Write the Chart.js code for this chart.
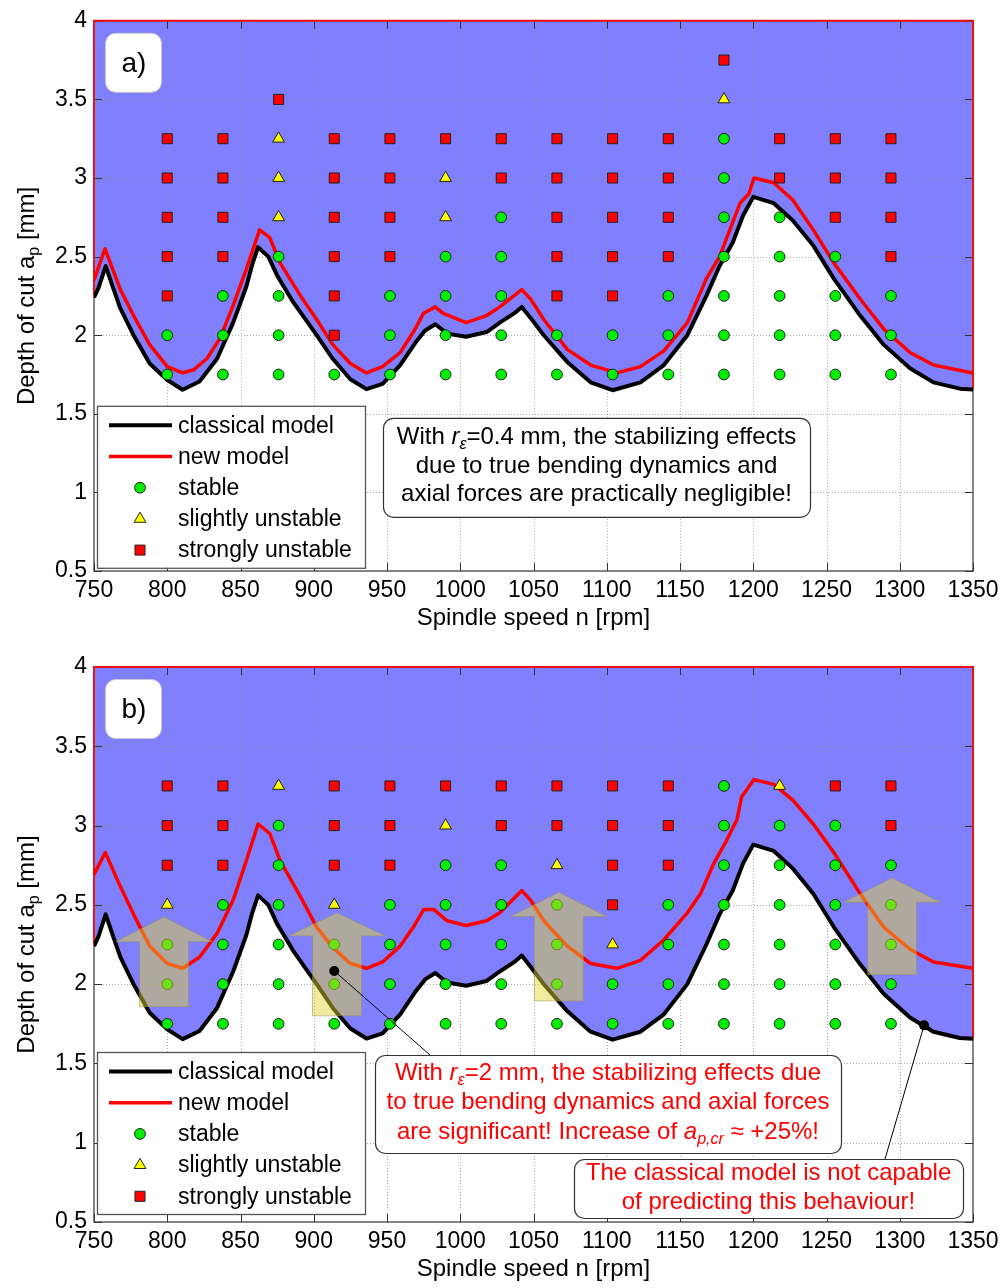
<!DOCTYPE html>
<html><head><meta charset="utf-8">
<script src="https://cdn.jsdelivr.net/npm/chart.js@4.4.0/dist/chart.umd.min.js"></script>
<style>
html,body{margin:0;padding:0;background:#fff;}
#wrap{position:relative;width:1007px;height:1288px;}
.panel{position:absolute;left:0;width:1007px;height:644px;}
</style></head><body>
<div id="wrap">
<div class="panel" style="top:0"><canvas id="cA"></canvas></div>
<div class="panel" style="top:644px"><canvas id="cB"></canvas></div>
</div>
<script>
// ---------------- DATA ----------------
const xTicks = [750,800,850,900,950,1000,1050,1100,1150,1200,1250,1300,1350];
const yTicks = [0.5,1,1.5,2,2.5,3,3.5,4];

const speeds = [800,838,876,914,952,990,1028,1066,1104,1142,1180,1218,1256,1294];
const depthLevels = [1.75,2.0,2.25,2.5,2.75,3.0,3.25,3.5,3.75];
// per speed, from lowest depth upwards: S = stable, Y = slightly unstable, R = strongly unstable
const testsA = ["SSRRRRR","SSSRRRR","SSSSYYYR","SRRRRRR","SSSRRRR","SSSSYYR","SSSSSRR",
                "SSRRRRR","SSRRRRR","SSSRRRR","SSSSSSSYR","SSSSSRR","SSSSRRR","SSSRRRR"];
const testsB = ["SSSYRRR","SSSSRRR","SSSSSSY","SSSYRRR","SSSSRRR","SSSSSYR","SSSSSRR",
                "SSSSYRR","SSYRRRR","SSSSRRR","SSSSSSS","SSSSSSY","SSSSSSR","SSSSSRR"];

const classicalRpm   = [750,753,758,762,768,777,788,800,810.5,822,834,845,854,858,862,869,875,886,902,913,925,936,947,959,970,976,983,991,1004,1018,1027,1037,1042,1048,1057,1073,1089,1104,1123,1139,1155,1168,1177,1186,1193,1200,1214,1227,1241,1255,1273,1289,1307,1323,1341,1350];
const classicalDepth = [2.24,2.30,2.44,2.33,2.17,2.00,1.82,1.715,1.653,1.705,1.85,2.08,2.31,2.45,2.56,2.50,2.38,2.21,2.00,1.85,1.72,1.657,1.69,1.81,1.96,2.03,2.07,2.01,1.99,2.02,2.08,2.14,2.18,2.11,2.00,1.83,1.70,1.65,1.70,1.81,2.00,2.25,2.44,2.59,2.76,2.88,2.84,2.73,2.57,2.36,2.125,1.94,1.79,1.70,1.66,1.655];

const newRpmA   = [750,757.5,768,777,788,800,810.5,818,827,836,845,854,863,870,877,891,902,913,925,936,947,959,968,975,983,988,1004,1018,1027,1042,1048,1057,1073,1089,1107,1123,1139,1155,1168,1177,1184,1191,1197,1200.5,1214,1227,1241,1255,1273,1289,1307,1323,1350];
const newDepthA = [2.35,2.55,2.29,2.125,1.94,1.80,1.76,1.78,1.85,1.98,2.19,2.42,2.67,2.62,2.46,2.25,2.10,1.94,1.82,1.76,1.80,1.89,2.02,2.14,2.18,2.14,2.08,2.125,2.18,2.29,2.23,2.10,1.91,1.81,1.76,1.80,1.90,2.08,2.36,2.50,2.67,2.84,2.90,3.0,2.97,2.86,2.67,2.46,2.23,2.04,1.89,1.81,1.76];

const newRpmB   = [750,757.7,768,777,788,800,810.5,822,834,845,854,862,870,877,891,902,913,925,936,947,959,968,975,982,991,1004,1018,1027,1042,1048,1057,1073,1089,1107,1123,1139,1155,1164,1173,1182,1189,1192,1200.5,1214,1227,1241,1255,1264,1273,1289,1307,1323,1350];
const newDepthB = [2.69,2.83,2.615,2.44,2.24,2.13,2.10,2.17,2.32,2.53,2.78,3.01,2.95,2.78,2.55,2.36,2.23,2.13,2.10,2.14,2.24,2.36,2.47,2.47,2.40,2.37,2.40,2.45,2.59,2.53,2.40,2.24,2.13,2.10,2.15,2.28,2.45,2.57,2.76,2.91,3.04,3.18,3.29,3.26,3.16,3.01,2.83,2.70,2.57,2.36,2.22,2.14,2.10];

// ---------------- HELPERS ----------------
const FONT = '"Liberation Sans", Arial, Helvetica, sans-serif';
Chart.defaults.font.family = FONT;
Chart.defaults.color = '#000';

function xy(xs, ys){ return xs.map((x,i)=>({x:x, y:ys[i]})); }
function pts(tests, code){
  const out=[];
  tests.forEach((col,i)=>{ [...col].forEach((c,j)=>{ if(c===code) out.push({x:speeds[i], y:depthLevels[j]}); }); });
  return out;
}
function rrect(ctx,x,y,w,h,r){
  ctx.beginPath();
  ctx.moveTo(x+r,y); ctx.lineTo(x+w-r,y); ctx.arcTo(x+w,y,x+w,y+r,r);
  ctx.lineTo(x+w,y+h-r); ctx.arcTo(x+w,y+h,x+w-r,y+h,r);
  ctx.lineTo(x+r,y+h); ctx.arcTo(x,y+h,x,y+h-r,r);
  ctx.lineTo(x,y+r); ctx.arcTo(x,y,x+r,y,r); ctx.closePath();
}
function segFont(s,size){ const sz = s.sub ? Math.round(size*0.68) : size; return (s.i?'italic ':'')+sz+'px '+FONT; }
function drawRich(ctx, segs, cx, cy, size, color){
  let w=0; segs.forEach(s=>{ ctx.font=segFont(s,size); w+=ctx.measureText(s.t).width; });
  let x = cx - w/2;
  ctx.fillStyle=color; ctx.textBaseline='middle'; ctx.textAlign='left';
  segs.forEach(s=>{ ctx.font=segFont(s,size); ctx.fillText(s.t, x, cy + (s.sub? size*0.3:0)); x+=ctx.measureText(s.t).width; });
}
function N(t){return {t:t};}
function I(t){return {t:t,i:true};}
function SUB(t){return {t:t,i:true,sub:true};}

const LINE_STYLES = {
  classical: {color:'#000000', width:4},
  newModel:  {color:'#ff0000', width:3.5}
};
const MARKERS = {
  stable:   {style:'circle',   radius:5.4, color:'#00ee00'},
  slightly: {style:'triangle', radius:6.8, color:'#ffff00'},
  strongly: {style:'rect',     radius:7.1, color:'#ff0000'}
};

// ---------------- PLUGIN ----------------
const panelPlugin = {
  id:'panelPlugin',
  afterDatasetDraw(chart, args){
    if(!chart.data.datasets[args.index].isFill) return;
    const {ctx, chartArea:ca, scales:{x,y}} = chart;
    ctx.save();
    // dotted grid
    ctx.strokeStyle='rgba(140,140,140,0.75)'; ctx.lineWidth=1; ctx.setLineDash([1,2]);
    x.ticks.forEach(t=>{ const p=Math.round(x.getPixelForValue(t.value))+0.5;
      if(p<ca.left+2||p>ca.right-2) return;
      ctx.beginPath(); ctx.moveTo(p,ca.top); ctx.lineTo(p,ca.bottom); ctx.stroke(); });
    y.ticks.forEach(t=>{ const p=Math.round(y.getPixelForValue(t.value))+0.5;
      if(p<ca.top+2||p>ca.bottom-2) return;
      ctx.beginPath(); ctx.moveTo(ca.left,p); ctx.lineTo(ca.right,p); ctx.stroke(); });
    ctx.setLineDash([]);
    // box
    ctx.strokeStyle='#333'; ctx.lineWidth=1.2;
    ctx.strokeRect(ca.left, ca.top, ca.right-ca.left, ca.bottom-ca.top);
    // inward ticks
    ctx.lineWidth=1;
    x.ticks.forEach(t=>{ const p=Math.round(x.getPixelForValue(t.value))+0.5;
      ctx.beginPath(); ctx.moveTo(p,ca.bottom); ctx.lineTo(p,ca.bottom-8);
      ctx.moveTo(p,ca.top); ctx.lineTo(p,ca.top+8); ctx.stroke(); });
    y.ticks.forEach(t=>{ const p=Math.round(y.getPixelForValue(t.value))+0.5;
      ctx.beginPath(); ctx.moveTo(ca.left,p); ctx.lineTo(ca.left+8,p);
      ctx.moveTo(ca.right,p); ctx.lineTo(ca.right-8,p); ctx.stroke(); });
    ctx.restore();
  },
  afterDatasetsDraw(chart){
    const o = chart.options.plugins.panelPlugin;
    const {ctx, scales:{x,y}} = chart;
    if(o.arrows){
      ctx.save();
      ctx.fillStyle='rgba(225,212,50,0.47)';
      o.arrows.forEach(a=>{
        const cx=x.getPixelForValue(a.x), sw=x.getPixelForValue(a.x+a.shaft)-cx, hw=x.getPixelForValue(a.x+a.head)-cx;
        const yb=y.getPixelForValue(a.y0), yh=y.getPixelForValue(a.yHead), yt=y.getPixelForValue(a.yTip);
        ctx.beginPath();
        ctx.moveTo(cx-sw,yb); ctx.lineTo(cx-sw,yh); ctx.lineTo(cx-hw,yh); ctx.lineTo(cx,yt);
        ctx.lineTo(cx+hw,yh); ctx.lineTo(cx+sw,yh); ctx.lineTo(cx+sw,yb); ctx.closePath(); ctx.fill();
        ctx.strokeStyle='rgba(150,140,90,0.5)'; ctx.lineWidth=1; ctx.stroke();
      });
      ctx.restore();
    }
  },
  afterDraw(chart){
    const o = chart.options.plugins.panelPlugin;
    const {ctx, chartArea:ca, scales:{x,y}} = chart;
    ctx.save();
    // callouts
    (o.callouts||[]).forEach(c=>{
      const px=x.getPixelForValue(c.x), py=y.getPixelForValue(c.y);
      ctx.strokeStyle='#000'; ctx.lineWidth=1;
      ctx.beginPath(); ctx.moveTo(px,py); ctx.lineTo(ca.left+c.tx, ca.top+c.ty); ctx.stroke();
      ctx.fillStyle='#000'; ctx.beginPath(); ctx.arc(px,py,5,0,Math.PI*2); ctx.fill();
    });
    // annotation boxes
    (o.notes||[]).forEach(n=>{
      const L=ca.left+n.l, T=ca.top+n.t;
      rrect(ctx,L+0.5,T+0.5,n.w,n.h,10); ctx.fillStyle='#fff'; ctx.fill();
      ctx.strokeStyle='#333'; ctx.lineWidth=1.2; ctx.stroke();
      n.lines.forEach((segs,k)=>drawRich(ctx, segs, L+n.w/2, T+n.first+k*n.step, 24, n.color));
    });
    // panel label
    rrect(ctx, ca.left+11.5, ca.top+12.5, 56, 59, 10); ctx.fillStyle='#fff'; ctx.fill();
    ctx.strokeStyle='#c8c8c8'; ctx.lineWidth=1; ctx.stroke();
    ctx.fillStyle='#000'; ctx.font='28px '+FONT; ctx.textAlign='center'; ctx.textBaseline='middle';
    ctx.fillText(o.label, ca.left+40, ca.top+43);
    // legend
    const L=ca.left+3, T=ca.top+385, W=268, H=162;
    ctx.fillStyle='#fff'; ctx.fillRect(L,T,W,H);
    ctx.strokeStyle='#555'; ctx.lineWidth=1.3; ctx.strokeRect(L+0.5,T+0.5,W,H);
    ctx.font='23px '+FONT; ctx.textAlign='left'; ctx.textBaseline='middle';
    chart.data.datasets.filter(d=>d.legendRow!==undefined).forEach(d=>{
      const ry = T+19.5+31.2*d.legendRow;
      if(d.pointRadius===0){
        ctx.strokeStyle=d.borderColor; ctx.lineWidth=d.borderWidth;
        ctx.beginPath(); ctx.moveTo(L+12,ry); ctx.lineTo(L+75,ry); ctx.stroke();
      } else {
        ctx.fillStyle=d.backgroundColor; ctx.strokeStyle=d.borderColor; ctx.lineWidth=d.borderWidth;
        Chart.helpers.drawPoint(ctx,{pointStyle:d.pointStyle, radius:d.pointRadius, rotation:0, borderWidth:d.borderWidth}, L+43, ry);
      }
      ctx.fillStyle='#000'; ctx.fillText(d.label, L+81, ry+1);
    });
    // axis titles
    ctx.fillStyle='#000';
    drawRich(ctx, [N('Spindle speed n [rpm]')], (ca.left+ca.right)/2, ca.bottom+47, 24, '#000');
    ctx.translate(27, (ca.top+ca.bottom)/2); ctx.rotate(-Math.PI/2);
    drawRich(ctx, [N('Depth of cut a'), {t:'p', sub:true}, N(' [mm]')], 0, 0, 24, '#000');
    ctx.restore();
  }
};

function makeChart(id, cfg){
  const fillData = xy(classicalRpm, classicalDepth);
  const first = fillData[0], last = fillData[fillData.length-1];
  return new Chart(document.getElementById(id), {
    type:'scatter',
    data:{ datasets:[
      {label:'fill', isFill:true, data:fillData, showLine:true, borderWidth:0, pointRadius:0,
       fill:'end', backgroundColor:'#8080ff', order:10},
      {label:'edge', data:[{x:xTicks[0],y:first.y},{x:xTicks[0],y:yTicks[yTicks.length-1]},{x:xTicks[xTicks.length-1],y:yTicks[yTicks.length-1]},{x:xTicks[xTicks.length-1],y:last.y}],
       showLine:true, borderColor:'#ee1111', borderWidth:2, pointRadius:0, tension:0, order:9, clip:false},
      {label:'classical model', legendRow:0, data:fillData, showLine:true, borderColor:LINE_STYLES.classical.color,
       borderWidth:LINE_STYLES.classical.width, pointRadius:0, tension:0, order:6, borderJoinStyle:'round'},
      {label:'new model', legendRow:1, data:cfg.newModel, showLine:true, borderColor:LINE_STYLES.newModel.color,
       borderWidth:LINE_STYLES.newModel.width, pointRadius:0, tension:0, order:5, borderJoinStyle:'round'},
      {label:'stable', legendRow:2, data:pts(cfg.tests,'S'), pointStyle:MARKERS.stable.style, pointRadius:MARKERS.stable.radius,
       backgroundColor:MARKERS.stable.color, borderColor:'#222', borderWidth:1, order:3},
      {label:'slightly unstable', legendRow:3, data:pts(cfg.tests,'Y'), pointStyle:MARKERS.slightly.style, pointRadius:MARKERS.slightly.radius,
       backgroundColor:MARKERS.slightly.color, borderColor:'#222', borderWidth:1, order:2},
      {label:'strongly unstable', legendRow:4, data:pts(cfg.tests,'R'), pointStyle:MARKERS.strongly.style, pointRadius:MARKERS.strongly.radius,
       backgroundColor:MARKERS.strongly.color, borderColor:'#222', borderWidth:1, order:1}
    ]},
    options:{
      responsive:true, maintainAspectRatio:false, animation:false, devicePixelRatio:1, events:[],
      layout:{padding:{top:cfg.caTop, right:34, left:0, bottom:0}},
      scales:{
        x:{type:'linear', min:xTicks[0], max:xTicks[xTicks.length-1],
           afterBuildTicks:s=>{ s.ticks = xTicks.map(v=>({value:v})); },
           afterFit:s=>{ s.height = 644 - cfg.caBottom; },
           grid:{display:false, drawTicks:false, tickLength:0}, border:{display:false},
           ticks:{autoSkip:false, maxRotation:0, padding:6, font:{size:23}, color:'#000', callback:v=>String(v)}},
        y:{type:'linear', min:yTicks[0], max:yTicks[yTicks.length-1],
           afterBuildTicks:s=>{ s.ticks = yTicks.map(v=>({value:v})); },
           afterFit:s=>{ s.width = 94; },
           grid:{display:false, drawTicks:false, tickLength:0}, border:{display:false},
           ticks:{autoSkip:false, padding:7, font:{size:23}, color:'#000', callback:v=>String(v)}}
      },
      plugins:{ legend:{display:false}, tooltip:{enabled:false},
        panelPlugin: cfg.plugin }
    },
    plugins:[panelPlugin]
  });
}

makeChart('cA', {
  caTop:16, caBottom:571, tests:testsA, newModel:xy(newRpmA,newDepthA),
  plugin:{ label:'a)',
    notes:[{l:289, t:397, w:427, h:99, first:20, step:28.5, color:'#000', lines:[
      [N('With '), I('r'), SUB('ε'), N('=0.4 mm, the stabilizing effects')],
      [N('due to true bending dynamics and')],
      [N('axial forces are practically negligible!')]
    ]}]
  }
});

makeChart('cB', {
  caTop:23, caBottom:578, tests:testsB, newModel:xy(newRpmB,newDepthB),
  plugin:{ label:'b)',
    arrows:[
      {x:797.8, y0:1.858, yHead:2.268, yTip:2.424, shaft:16.7, head:33},
      {x:915.9, y0:1.80,  yHead:2.304, yTip:2.45,  shaft:16.7, head:33},
      {x:1067.3,y0:1.894, yHead:2.426, yTip:2.58,  shaft:16.7, head:33},
      {x:1294.8,y0:2.06,  yHead:2.516, yTip:2.67,  shaft:16.7, head:33}
    ],
    callouts:[ {x:914, y:2.083, tx:336, ty:388}, {x:1316.6, y:1.74, tx:791, ty:492} ],
    notes:[
      {l:281, t:388, w:466, h:98, first:18, step:29.5, color:'#ff0000', lines:[
        [N('With '), I('r'), SUB('ε'), N('=2 mm, the stabilizing effects due')],
        [N('to true bending dynamics and axial forces')],
        [N('are significant! Increase of '), I('a'), SUB('p,cr'), N(' ≈ +25%!')]
      ]},
      {l:480, t:492, w:389, h:59, first:14, step:29, color:'#ff0000', lines:[
        [N('The classical model is not capable')],
        [N('of predicting this behaviour!')]
      ]}
    ]
  }
});
</script>
</body></html>
